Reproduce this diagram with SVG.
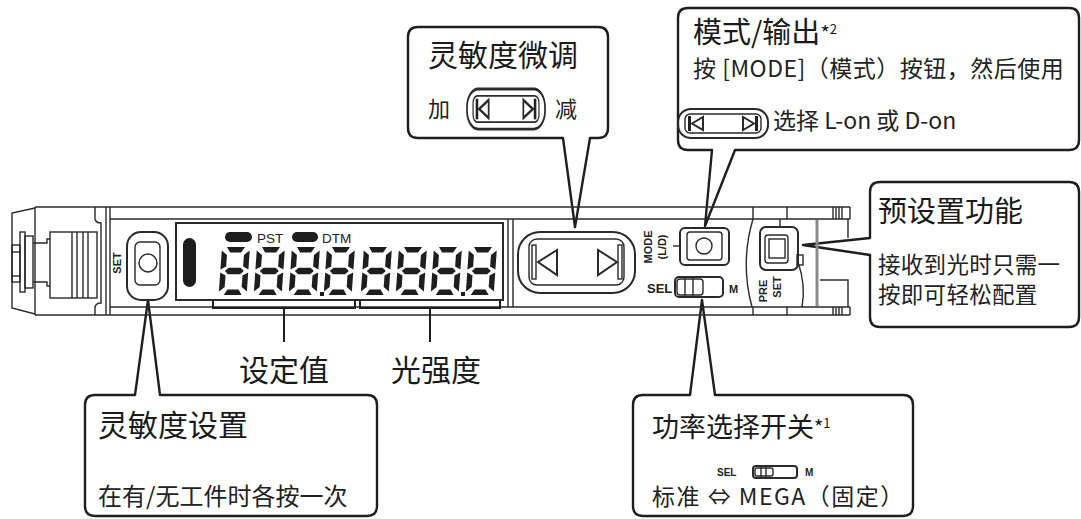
<svg xmlns="http://www.w3.org/2000/svg" xmlns:xlink="http://www.w3.org/1999/xlink" width="1081" height="519" viewBox="0 0 1081 519">
  <style>
    .bubble { fill: #fff; stroke: #1e1e1e; stroke-width: 2.4; stroke-linejoin: round; }
    .ln { fill: none; stroke: #2a2a2a; stroke-width: 1.4; }
    .ln2 { fill: none; stroke: #2a2a2a; stroke-width: 2; }
    .seg { fill: #1e1e1e; }
    .zh { font-family: "Noto Sans CJK SC", "Noto Sans", sans-serif; fill: #222; }
    .title { fill: #1a1a1a; }
    .lat { font-family: "Liberation Sans", Arial, sans-serif; fill: #222; }
    .conn { fill: none; stroke: #1e1e1e; stroke-width: 2; }
  </style>
  <defs>
    <!-- seven-segment LCD digit, 28 x 48 -->
    <g id="digit" class="seg">
      <polygon points="5,0 23,0 19.5,5.5 8.5,5.5"/>
      <polygon points="4.5,24 8,20.8 20,20.8 23.5,24 20,27.2 8,27.2"/>
      <polygon points="8.5,42.5 19.5,42.5 23,48 5,48"/>
      <polygon points="0,3.5 5.5,8 5.5,19.5 0,22.5"/>
      <polygon points="0,25.5 5.5,28.5 5.5,40 0,44.5"/>
      <polygon points="28,3.5 22.5,8 22.5,19.5 28,22.5"/>
      <polygon points="28,25.5 22.5,28.5 22.5,40 28,44.5"/>
    </g>
    <!-- small left/right key icon, 90 x 29 -->
    <g id="keyIcon">
      <rect x="0" y="0" width="90" height="29" rx="13" class="ln2"/>
      <rect x="7" y="5" width="76" height="19" rx="5" class="ln"/>
      <rect x="10" y="7" width="3" height="15" fill="#222"/>
      <polygon points="14,14.5 25,8 25,21" class="ln2"/>
      <polygon points="76,14.5 65,8 65,21" class="ln2"/>
      <rect x="77" y="7" width="3" height="15" fill="#222"/>
    </g>
  </defs>

  <!-- callout bubbles -->
  <g id="callout-sensitivity-set">
    <path class="bubble" d="M95,395 H135 L148,300 L160,395 H367 Q377,395 377,405 V506 Q377,516 367,516 H95 Q85,516 85,506 V405 Q85,395 95,395 Z"/>
    <text class="zh title" x="98" y="436" font-size="30">灵敏度设置</text>
    <text class="zh" x="98" y="505" font-size="24">在有/无工件时各按一次</text>
  </g>

  <g id="callout-fine-adjust">
    <path class="bubble" d="M418,27 H598 Q608,27 608,37 V128 Q608,138 598,138 H590 L575,227 L563,138 H418 Q408,138 408,128 V37 Q408,27 418,27 Z"/>
    <text class="zh title" x="428" y="66" font-size="30">灵敏度微调</text>
    <text class="zh" x="428" y="117" font-size="22">加</text>
    <use xlink:href="#keyIcon" transform="translate(467,89) scale(0.867,1.38)"/>
    <text class="zh" x="555" y="117" font-size="22">减</text>
  </g>

  <g id="callout-mode">
    <path class="bubble" d="M688,8 H1069 Q1079,8 1079,18 V140 Q1079,150 1069,150 H735 L705,226 L712,150 H688 Q678,150 678,140 V18 Q678,8 688,8 Z"/>
    <text class="zh title" x="693" y="43" font-size="29">模式/输出<tspan font-size="20" dy="-2">*</tspan><tspan font-size="13" dy="-7">2</tspan></text>
    <text class="zh" x="693" y="77" font-size="23" letter-spacing="0.5">按 [MODE]（模式）按钮，然后使用</text>
    <use xlink:href="#keyIcon" transform="translate(678,109)"/>
    <text class="zh" x="773" y="129" font-size="23">选择 L-on 或 D-on</text>
  </g>

  <g id="callout-preset">
    <path class="bubble" d="M880,182 H1069 Q1079,182 1079,192 V317 Q1079,327 1069,327 H880 Q870,327 870,317 V255 L803,245 L870,238 V192 Q870,182 880,182 Z"/>
    <text class="zh title" x="878" y="222" font-size="29">预设置功能</text>
    <text class="zh" x="878" y="273" font-size="22.5" letter-spacing="0.3">接收到光时只需一</text>
    <text class="zh" x="878" y="303" font-size="22.5" letter-spacing="0.3">按即可轻松配置</text>
  </g>

  <g id="callout-power-select">
    <path class="bubble" d="M643,395 H690 L702,300 L715,395 H903 Q913,395 913,405 V506 Q913,516 903,516 H643 Q633,516 633,506 V405 Q633,395 643,395 Z"/>
    <text class="zh title" x="652" y="437" font-size="27">功率选择开关<tspan font-size="20" dy="-2">*</tspan><tspan font-size="13" dy="-7">1</tspan></text>
    <text class="lat" x="717" y="476" font-size="10" font-weight="bold">SEL</text>
    <rect x="753" y="466" width="44" height="12" rx="3" class="ln2"/>
    <rect x="755" y="468" width="18" height="8" rx="2" class="ln"/>
    <line x1="761" y1="467" x2="761" y2="477" class="ln"/>
    <line x1="766" y1="467" x2="766" y2="477" class="ln"/>
    <text class="lat" x="805" y="476" font-size="10" font-weight="bold">M</text>
    <text class="zh" x="652" y="505" font-size="23" letter-spacing="1.5">标准 ⇔ MEGA（固定）</text>
  </g>

  <!-- the amplifier body -->
  <g id="amplifier">
    <!-- connector end -->
    <path class="ln" d="M35,208 L12,213 V308 L35,314"/>
    <line class="ln" x1="35" y1="207" x2="35" y2="315"/>
    <rect class="ln" x="12" y="245" width="8" height="37"/>
    <line class="ln" x1="12" y1="252" x2="20" y2="252"/>
    <line class="ln" x1="12" y1="276" x2="20" y2="276"/>
    <rect class="ln" x="20" y="232" width="5" height="60"/>
    <rect class="ln" x="25" y="236" width="8" height="52"/>
    <path class="ln" d="M33,243 H47 V239 H50 M33,282 H47 V286 H50"/>
    <rect class="ln" x="50" y="232" width="47" height="66"/>
    <line class="ln" x1="72" y1="232" x2="72" y2="298"/>
    <line class="ln" x1="77" y1="232" x2="77" y2="298"/>
    <line class="ln" x1="83" y1="232" x2="83" y2="298"/>
    <line class="ln" x1="88" y1="232" x2="88" y2="298"/>
    <path class="ln" d="M95,207 V219 Q96,223 101,223 V303 Q96,303 95,307 V315"/>
    <line class="ln" x1="106" y1="207" x2="106" y2="315"/>
    <line class="ln" x1="110" y1="207" x2="110" y2="315"/>

    <!-- housing edges -->
    <line class="ln" x1="35" y1="207" x2="850" y2="207"/>
    <line class="ln" x1="35" y1="315" x2="850" y2="315"/>
    <line class="ln" x1="110" y1="219" x2="850" y2="219"/>
    <line class="ln" x1="110" y1="307" x2="850" y2="307"/>

    <!-- SET key -->
    <g id="set-key">
      <rect class="ln2" x="127" y="232" width="41" height="68" rx="14"/>
      <rect class="ln" x="135" y="242" width="25" height="43" rx="5"/>
      <circle class="ln" cx="148" cy="263" r="9"/>
      <text class="lat" font-size="11" font-weight="bold" text-anchor="middle" transform="translate(121,263) rotate(-90)">SET</text>
    </g>

    <!-- LCD window -->
    <g id="display">
      <rect class="ln2" x="176" y="223" width="327" height="77"/>
      <rect x="183" y="238" width="13" height="49" rx="6.5" fill="#1e1e1e"/>
      <rect x="225" y="232" width="27" height="10" rx="5" fill="#1e1e1e"/>
      <text class="lat" x="257" y="243" font-size="13.5">PST</text>
      <rect x="292" y="232" width="26" height="10" rx="5" fill="#1e1e1e"/>
      <text class="lat" x="322" y="243" font-size="13.5">DTM</text>
      <g transform="translate(222,247)"><use xlink:href="#digit" transform="skewX(-4)"/></g>
      <g transform="translate(257,247)"><use xlink:href="#digit" transform="skewX(-4)"/></g>
      <g transform="translate(292,247)"><use xlink:href="#digit" transform="skewX(-4)"/></g>
      <g transform="translate(327,247)"><use xlink:href="#digit" transform="skewX(-4)"/></g>
      <g transform="translate(364,247)"><use xlink:href="#digit" transform="skewX(-4)"/></g>
      <g transform="translate(399,247)"><use xlink:href="#digit" transform="skewX(-4)"/></g>
      <g transform="translate(434,247)"><use xlink:href="#digit" transform="skewX(-4)"/></g>
      <g transform="translate(469,247)"><use xlink:href="#digit" transform="skewX(-4)"/></g>
      <rect x="320" y="292" width="4" height="4" fill="#1e1e1e"/>
      <rect x="461" y="292" width="4" height="4" fill="#1e1e1e"/>
    </g>

    <line class="ln" x1="508" y1="219" x2="508" y2="307"/>
    <line class="ln" x1="513" y1="219" x2="513" y2="307"/>

    <!-- up/down keys -->
    <g id="adjust-keys">
      <rect class="ln2" x="518" y="232" width="117" height="61" rx="22"/>
      <rect class="ln" x="529" y="239" width="95" height="46" rx="8"/>
      <rect class="ln" x="532" y="245" width="4" height="34" fill="#555"/>
      <polygon class="ln2" points="538,262 557,250 557,275"/>
      <polygon class="ln2" points="617,262 598,250 598,275"/>
      <rect class="ln" x="618" y="245" width="4" height="34" fill="#555"/>
    </g>

    <!-- MODE key and SEL switch -->
    <g id="mode-key">
      <text class="lat" font-size="11" font-weight="bold" text-anchor="middle" transform="translate(652,247) rotate(-90)">MODE</text>
      <text class="lat" font-size="11" font-weight="bold" text-anchor="middle" transform="translate(666,247) rotate(-90)">(L/D)</text>
      <line class="ln" x1="673" y1="246" x2="680" y2="246"/>
      <rect class="ln2" x="680" y="228" width="49" height="37" rx="5"/>
      <rect class="ln" x="687" y="232" width="35" height="28" rx="3"/>
      <circle class="ln" cx="704" cy="246" r="8"/>
    </g>
    <g id="sel-switch">
      <text class="lat" x="647" y="293" font-size="13" font-weight="bold">SEL</text>
      <rect class="ln2" x="675" y="277" width="48" height="20" rx="4"/>
      <rect class="ln" x="677" y="279" width="26" height="16" rx="3"/>
      <line class="ln" x1="685" y1="278" x2="685" y2="296"/>
      <line class="ln" x1="693" y1="278" x2="693" y2="296"/>
      <text class="lat" x="729" y="293" font-size="11" font-weight="bold">M</text>
    </g>

    <!-- PRESET key -->
    <g id="preset-key">
      <path class="ln" d="M753,219 Q740,263 752,307"/>
      <path class="ln" d="M798,262 Q806,285 802,307"/>
      <line class="ln" x1="780" y1="219" x2="780" y2="227"/>
      <rect class="ln2" x="760" y="227" width="38" height="43" rx="6"/>
      <rect class="ln" x="765" y="235" width="23" height="28" rx="3"/>
      <rect class="ln" x="769" y="239" width="16" height="19"/>
      <rect class="ln" x="797" y="255" width="6" height="10"/>
      <text class="lat" font-size="11" font-weight="bold" text-anchor="middle" transform="translate(767,291) rotate(-90)">PRE</text>
      <text class="lat" font-size="11" font-weight="bold" text-anchor="middle" transform="translate(781,287) rotate(-90)">SET</text>
    </g>

    <!-- right end of housing -->
    <line class="ln" x1="753" y1="207" x2="753" y2="219"/>
    <line class="ln" x1="787" y1="207" x2="787" y2="219"/>
    <line class="ln" x1="753" y1="307" x2="753" y2="315"/>
    <line class="ln" x1="787" y1="307" x2="787" y2="315"/>
    <line x1="817" y1="220" x2="817" y2="306" stroke="#8a8a8a" stroke-width="3"/>
    <path class="ln" d="M833,207 V219 M836,207 V219 M839,207 V219 M842,207 V219 M833,307 V315 M836,307 V315 M839,307 V315 M842,307 V315"/>
    <line class="ln" x1="850" y1="207" x2="850" y2="219"/>
    <line class="ln" x1="850" y1="307" x2="850" y2="315"/>
    <path class="ln" d="M848,219 V238 M820,280 H848 V307"/>
  </g>

  <!-- display brackets and their leaders -->
  <g id="connectors">
    <path class="conn" d="M213,300 V308 H355 V300"/>
    <path class="conn" d="M360,300 V308 H500 V300"/>
    <line class="conn" x1="284" y1="308" x2="284" y2="342"/>
    <line class="conn" x1="430" y1="308" x2="430" y2="342"/>
  </g>

  <g id="label-setpoint">
    <text class="zh title" x="284" y="381" font-size="30" text-anchor="middle">设定值</text>
  </g>
  <g id="label-intensity">
    <text class="zh title" x="436" y="381" font-size="30" text-anchor="middle">光强度</text>
  </g>
</svg>
